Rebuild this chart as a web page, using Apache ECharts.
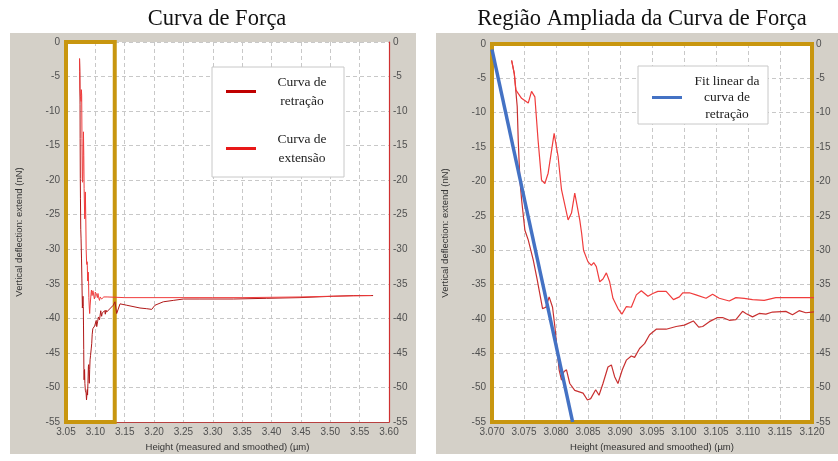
<!DOCTYPE html>
<html>
<head>
<meta charset="utf-8">
<script src="https://cdn.jsdelivr.net/npm/echarts@6/dist/echarts.min.js"></script>
<style>
  html, body { margin: 0; padding: 0; background: #ffffff; }
  #chart { width: 838px; height: 461px; }
</style>
</head>
<body>
<div id="chart"></div>
<script>
// Curva de retração: altura (µm) e deflexão vertical (nN)
const retracaoH = [3.07307, 3.07348, 3.07394, 3.0741, 3.07436, 3.07463, 3.07514, 3.07566, 3.07644, 3.07706,
  3.0779, 3.07841, 3.07893, 3.07946, 3.07982, 3.08018, 3.08049, 3.08086, 3.08122, 3.08164,
  3.08215, 3.08293, 3.08423, 3.08491, 3.08542, 3.0862, 3.08672, 3.08734, 3.08812, 3.08865,
  3.08916, 3.08968, 3.09036, 3.09099, 3.09177, 3.09228, 3.09306, 3.09384, 3.09462, 3.09566,
  3.09721, 3.09877, 3.10006, 3.10146, 3.1023, 3.10292, 3.10396, 3.10526, 3.10603, 3.10707,
  3.10811, 3.10915, 3.10967, 3.11071, 3.11175, 3.11279, 3.11383, 3.11591, 3.11695, 3.11799,
  3.11903, 3.12, 3.1305, 3.1334, 3.1363, 3.142, 3.1534, 3.176, 3.1874, 3.196,
  3.2015, 3.2157, 3.2327, 3.2497, 3.278, 3.335, 3.3918, 3.4484, 3.505, 3.5392, 3.5729];
const retracaoF = [-2.4, -4.3, -9.1, -14, -19.8, -22.7, -27.1, -28.5, -31.4, -34.3,
  -38.5, -38.3, -36.8, -38.3, -41.1, -44.5, -47.4, -48.9, -47.7, -47.4,
  -49.4, -50.4, -50.8, -51.8, -51.6, -50.3, -51.1, -49.4, -47.0, -46.7,
  -48.4, -49.4, -47.4, -46.0, -45.4, -45.6, -44.3, -43.6, -42.3, -41.5,
  -41.5, -41.1, -40.9, -40.3, -41.2, -41.1, -40.4, -39.8, -39.8, -40.2,
  -40.1, -38.9, -39.2, -39.7, -39.2, -39.3, -39.0, -38.9, -39.4, -38.8,
  -39.1, -39.0, -38.1, -37.6, -39.3, -37.9, -38.1, -38.5, -38.6, -38.7,
  -38.1, -37.6, -37.4, -37.2, -37.2, -37.2, -37.1, -37.0, -36.8, -36.7, -36.7];

// Curva de extensão
const extensaoH = [3.07307, 3.07348, 3.07374, 3.07462, 3.07566, 3.07618, 3.0767, 3.0772, 3.07774, 3.07826,
  3.07877, 3.07971, 3.08033, 3.08086, 3.08189, 3.08242, 3.08293, 3.08371, 3.084, 3.0843,
  3.085, 3.08553, 3.08589, 3.0863, 3.08683, 3.08734, 3.08787, 3.08838, 3.0889, 3.08968,
  3.0903, 3.091, 3.09177, 3.09255, 3.09333, 3.09436, 3.09513, 3.09591, 3.09721, 3.09835,
  3.09928, 3.0998, 3.10084, 3.10188, 3.10344, 3.10447, 3.10551, 3.10707, 3.10811, 3.10941,
  3.11071, 3.11253, 3.11435, 3.12, 3.15, 3.20, 3.25, 3.30, 3.35, 3.40,
  3.45, 3.50, 3.57];
const extensaoF = [-2.4, -4.3, -6.7, -7.9, -8.6, -6.9, -7.7, -14, -19.8, -20.3,
  -18.8, -13, -16.4, -21.2, -25.6, -24.6, -21.7, -25.6, -27.5, -30,
  -31.7, -32.2, -31.8, -32.4, -34.6, -34.2, -33.3, -34.6, -37, -38.5,
  -39.3, -38.2, -38.3, -36.5, -35.9, -36.7, -36.3, -36.0, -36.0, -37.2,
  -36.8, -36.2, -36.2, -36.5, -37.0, -36.4, -37.0, -37.4, -36.9, -37.0,
  -37.2, -37.3, -36.9, -36.9, -37.0, -37.0, -37.0, -37.0, -37.0, -36.95,
  -36.9, -36.8, -36.7];

// Ajuste linear da curva de retração (extremos da reta)
const fitH = [3.0700, 3.0826];
const fitF = [-0.8, -55];

// Limites dos eixos
const fullRange = { min: 3.05, max: 3.60, step: 0.05 };
const zoomRange = { min: 3.07, max: 3.12, step: 0.005 };
const forceRange = { min: -55, max: 0, step: 5 };
// Região destacada no gráfico completo
const zoomBoxH = [3.05, 3.133];

const legendText = {
  'Curva de retração': 'Curva de\nretração',
  'Curva de extensão': 'Curva de\nextensão',
  'Fit linear da curva de retração': 'Fit linear da\ncurva de\nretração'
};

const pairs = (h, f) => h.map((x, i) => [x, f[i]]);

const GOLD = '#c8960f';
const PANEL = '#d4d0c8';
const SANS = 'Liberation Sans';
const SERIF = 'Liberation Serif';

const gridLine = { show: true, lineStyle: { color: '#c8c8c8', type: [4, 3], width: 1 } };
const tickText = { color: '#505050', fontSize: 10, fontFamily: SANS };
const nameText = { color: '#333333', fontSize: 9.5, fontFamily: SANS };

function xAxisFor(grid, r, digits) {
  return {
    type: 'value', gridIndex: grid, min: r.min, max: r.max, interval: r.step,
    axisLine: { show: grid === 0, onZero: false, lineStyle: { color: '#b84040', width: 1.2 } },
    axisTick: { show: false },
    axisLabel: Object.assign({ margin: 5, formatter: v => v.toFixed(digits) }, tickText),
    splitLine: gridLine,
    name: 'Height (measured and smoothed) (µm)',
    nameLocation: 'middle', nameGap: 19, nameTextStyle: nameText
  };
}
function yAxisFor(grid, side) {
  const left = side === 'left';
  return {
    type: 'value', gridIndex: grid, position: side,
    min: forceRange.min, max: forceRange.max, interval: forceRange.step,
    axisLine: { show: !left && grid === 0, onZero: false, lineStyle: { color: '#d03030', width: 1.2 } },
    axisTick: { show: false },
    axisLabel: Object.assign({ margin: left ? 6 : 4 }, tickText),
    splitLine: left ? gridLine : { show: false },
    name: left ? 'Vertical deflection: extend (nN)' : '',
    nameLocation: 'middle', nameRotate: 90, nameGap: 42, nameTextStyle: nameText
  };
}

function goldFrame(hMin, hMax) {
  return {
    silent: true,
    itemStyle: { color: 'rgba(0,0,0,0)', borderColor: GOLD, borderWidth: 4 },
    data: [[{ xAxis: hMin, yAxis: forceRange.max }, { xAxis: hMax, yAxis: forceRange.min }]]
  };
}

const legendBase = {
  orient: 'vertical', backgroundColor: '#ffffff', borderColor: '#c8c8c8', borderWidth: 1,
  borderRadius: 0, itemWidth: 30, itemHeight: 3, icon: 'rect', selectedMode: false,
  formatter: name => '{t|' + legendText[name] + '}'
};

const titleStyle = { fontFamily: SERIF, fontSize: 22.5, fontWeight: 'normal', color: '#111111' };

const chart = echarts.init(document.getElementById('chart'), null, { renderer: 'canvas' });
chart.setOption({
  backgroundColor: '#ffffff',
  animation: false,
  graphic: [
    { type: 'rect', z: -10, shape: { x: 10, y: 33, width: 406, height: 421 }, style: { fill: PANEL } },
    { type: 'rect', z: -10, shape: { x: 436, y: 33, width: 402, height: 421 }, style: { fill: PANEL } }
  ],
  title: [
    { text: 'Curva de Força', left: 212, top: 3, textAlign: 'center', textStyle: titleStyle },
    { text: 'Região Ampliada da Curva de Força', left: 637, top: 3, textAlign: 'center', textStyle: titleStyle }
  ],
  legend: [
    Object.assign({}, legendBase, {
      data: ['Curva de retração', 'Curva de extensão'],
      left: 212, top: 67, padding: [8, 1, 12, 14], itemGap: 24,
      textStyle: { rich: { t: { fontFamily: SERIF, fontSize: 13.5, lineHeight: 19, width: 82, align: 'center', color: '#222222' } } }
    }),
    Object.assign({}, legendBase, {
      data: ['Fit linear da curva de retração'],
      left: 638, top: 66, padding: [8, 1, 3, 14], itemGap: 0,
      textStyle: { rich: { t: { fontFamily: SERIF, fontSize: 13.5, lineHeight: 16.5, width: 80, align: 'center', color: '#222222' } } }
    })
  ],
  grid: [
    { left: 66, top: 42, width: 323, height: 380, show: true, backgroundColor: '#ffffff', borderWidth: 0 },
    { left: 492, top: 44, width: 320, height: 378, show: true, backgroundColor: '#ffffff', borderWidth: 0 }
  ],
  xAxis: [xAxisFor(0, fullRange, 2), xAxisFor(1, zoomRange, 3)],
  yAxis: [yAxisFor(0, 'left'), yAxisFor(0, 'right'), yAxisFor(1, 'left'), yAxisFor(1, 'right')],
  series: [
    {
      name: 'Curva de retração', type: 'line', xAxisIndex: 0, yAxisIndex: 0,
      data: pairs(retracaoH, retracaoF), showSymbol: false, color: '#c00000',
      lineStyle: { width: 1, color: '#b01818' },
      markArea: goldFrame(zoomBoxH[0], zoomBoxH[1])
    },
    {
      name: 'Curva de extensão', type: 'line', xAxisIndex: 0, yAxisIndex: 0,
      data: pairs(extensaoH, extensaoF), showSymbol: false, color: '#e81818',
      lineStyle: { width: 1, color: '#f03c3c' }
    },
    {
      name: 'retração (região ampliada)', type: 'line', xAxisIndex: 1, yAxisIndex: 2,
      data: pairs(retracaoH, retracaoF), showSymbol: false, clip: true,
      lineStyle: { width: 1.2, color: '#c83030' },
      markArea: goldFrame(zoomRange.min, zoomRange.max)
    },
    {
      name: 'extensão (região ampliada)', type: 'line', xAxisIndex: 1, yAxisIndex: 2,
      data: pairs(extensaoH, extensaoF), showSymbol: false, clip: true,
      lineStyle: { width: 1.2, color: '#f03c3c' }
    },
    {
      name: 'Fit linear da curva de retração', type: 'line', xAxisIndex: 1, yAxisIndex: 2,
      data: pairs(fitH, fitF), showSymbol: false, clip: true, color: '#4472c4',
      lineStyle: { width: 3.5, color: '#4472c4' }
    }
  ]
});
</script>
</body>
</html>
